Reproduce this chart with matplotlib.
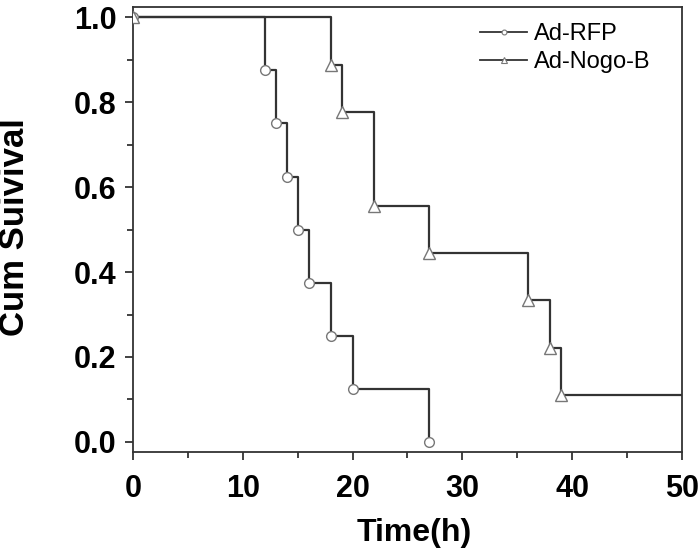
import numpy as np
import matplotlib.pyplot as plt
from matplotlib.ticker import MultipleLocator

plt.rcParams['font.family'] = ['Liberation Sans', 'DejaVu Sans']

# Kaplan-Meier data
rfp_time = [0, 12, 13, 14, 15, 16, 18, 20, 27]
rfp_surv = [1.0, 0.875, 0.75, 0.625, 0.5, 0.375, 0.25, 0.125, 0.0]

nogo_time = [0, 18, 19, 22, 27, 36, 38, 39]
nogo_surv = [1.0, 8/9, 7/9, 5/9, 4/9, 3/9, 2/9, 1/9]
nogo_end = 50

LINE_COL = '#333333'
MARK_COL = '#777777'

fig = plt.figure(figsize=(7, 5.52), dpi=100)
ax = fig.add_axes([0.19, 0.181, 0.784, 0.806])

# Ad-RFP
ax.step(rfp_time, rfp_surv, where='post', color=LINE_COL, lw=1.6, zorder=2)
ax.plot(rfp_time, rfp_surv, 'o', ms=7, mfc='white', mec=MARK_COL, mew=1.0, zorder=3)

# Ad-Nogo-B
ax.step(nogo_time + [nogo_end], nogo_surv + [nogo_surv[-1]], where='post',
        color=LINE_COL, lw=1.6, zorder=2)
ax.plot(nogo_time, nogo_surv, '^', ms=8, mfc='white', mec=MARK_COL, mew=1.0, zorder=3)

# legend proxies
h1, = ax.plot([], [], '-o', color=LINE_COL, lw=1.3, ms=3.5, mfc='white', mec=MARK_COL, mew=0.8)
h2, = ax.plot([], [], '-^', color=LINE_COL, lw=1.3, ms=4, mfc='white', mec=MARK_COL, mew=0.8)
ax.legend([h1, h2], ['Ad-RFP', 'Ad-Nogo-B'], loc='upper left', frameon=False,
          fontsize=17, handlelength=2.0, handletextpad=0.3, labelspacing=0.25,
          borderpad=0, borderaxespad=0,
          bbox_to_anchor=(480 / 700, 1 - 23 / 552), bbox_transform=fig.transFigure)

ax.set_xlim(0, 50)
ax.set_ylim(-0.024, 1.024)
ax.xaxis.set_major_locator(MultipleLocator(10))
ax.xaxis.set_minor_locator(MultipleLocator(5))
ax.yaxis.set_major_locator(MultipleLocator(0.2))
ax.yaxis.set_minor_locator(MultipleLocator(0.1))
ax.yaxis.set_major_formatter(plt.FuncFormatter(lambda v, p: f'{v:.1f}'))

ax.tick_params(which='both', direction='out', width=1.3, color='#333333')
ax.tick_params(which='major', length=6, labelsize=22)
ax.tick_params(which='minor', length=4)
ax.tick_params(axis='x', which='major', pad=9.5)
ax.tick_params(axis='y', which='major', pad=6)
for lab in ax.get_xticklabels() + ax.get_yticklabels():
    lab.set_fontweight('bold')
for sp in ax.spines.values():
    sp.set_linewidth(1.3)
    sp.set_color('#333333')

fig.text(414.5 / 700, 1 - 541 / 552, 'Time(h)', fontsize=23, fontweight='bold',
         ha='center', va='baseline')
fig.text(15 / 700, 1 - 227 / 552, 'Cum Suivival', fontsize=25, fontweight='bold',
         ha='center', va='center', rotation=90)

fig.savefig('out.png', dpi=100)
